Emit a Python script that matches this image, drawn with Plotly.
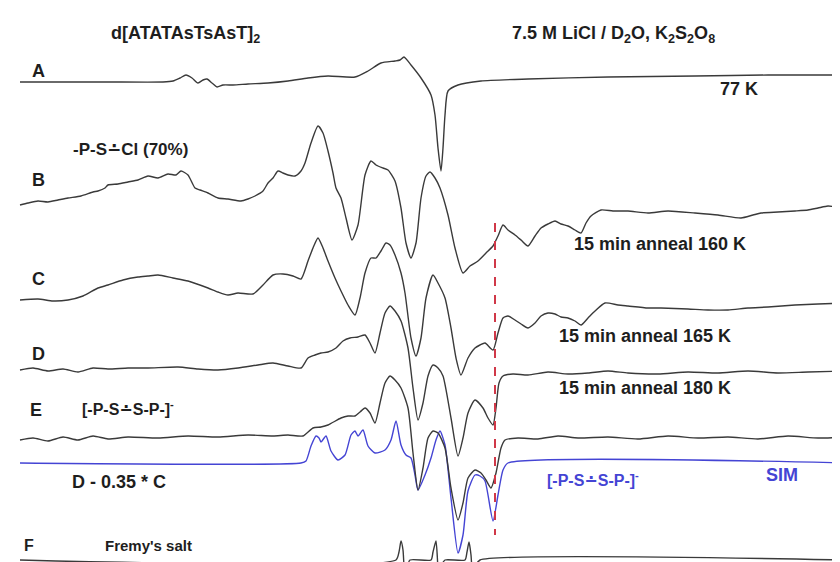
import plotly.graph_objects as go

# ---- spectra: field positions (arbitrary units) and signal amplitude (arb. units, up = +) ----
A_x = [12, 60, 100, 155, 165, 172, 178, 184, 190, 195, 199, 204, 209, 215, 225, 240, 260, 280, 300, 320, 347, 360, 373, 387, 392, 396, 403, 413, 423, 427, 430, 433, 435, 437, 440, 450, 473, 520, 600, 687, 760, 840]
A_y = [0, 0, 0, 0, 1, 4, 7, 4, -1, 2, 3, -1, -5, -3, -3, -2, -1, 1, 4, 6, 5, 11, 19, 21, 22, 25, 17, 4, -13, -33, -66, -89, -66, -33, -9, -3, 1, 3, 5, 6, 7, 7]

B_x = [12, 20, 30, 40, 50, 60, 73, 85, 90, 97, 100, 110, 120, 130, 140, 150, 160, 168, 173, 180, 187, 192, 200, 210, 220, 233, 240, 247, 255, 260, 265, 270, 275, 280, 287, 293, 297, 303, 310, 315, 320, 325, 328, 333, 338, 344, 350, 357, 363, 368, 375, 380, 387, 393, 398, 403, 408, 413, 418, 422, 427, 432, 440, 447, 455, 462, 470, 478, 485, 490, 495, 500, 507, 513, 520, 527, 533, 540, 547, 553, 560, 567, 573, 578, 583, 593, 605, 620, 640, 660, 687, 710, 733, 745, 753, 770, 787, 800, 810, 820, 830, 840]
B_y = [-2, 0, 2, 1, 3, 5, 7, 11, 12, 15, 18, 19, 21, 23, 27, 25, 29, 28, 32, 28, 15, 13, 10, 5, 4, 2, 4, 7, 12, 20, 25, 32, 30, 28, 27, 32, 40, 60, 77, 70, 52, 30, 15, 5, -15, -37, -22, 28, 42, 38, 35, 33, 22, -5, -40, -55, -40, 5, 27, 31, 25, 15, -12, -45, -70, -63, -58, -50, -43, -33, -22, -27, -32, -37, -43, -33, -25, -21, -18, -21, -23, -27, -30, -20, -13, -7, -8, -8, -10, -8, -10, -12, -15, -12, -10, -9, -8, -7, -5, -3, -4, -2]

C_x = [12, 30, 45, 60, 75, 90, 100, 115, 130, 140, 150, 165, 180, 200, 210, 220, 230, 245, 255, 265, 275, 285, 293, 300, 305, 310, 315, 320, 327, 333, 340, 347, 352, 357, 363, 368, 373, 378, 382, 387, 393, 397, 403, 408, 413, 418, 425, 430, 437, 443, 448, 453, 460, 467, 472, 477, 485, 490, 495, 500, 507, 513, 520, 527, 533, 540, 547, 553, 560, 567, 573, 580, 587, 597, 610, 620, 640, 653, 680, 700, 720, 740, 760, 787, 810, 840]
C_y = [-2, -1, -3, -2, 2, 10, 13, 18, 21, 22, 23, 20, 17, 10, 6, 3, 5, 4, 13, 23, 24, 22, 19, 37, 50, 60, 50, 37, 20, 7, -7, -17, 0, 25, 40, 40, 47, 55, 53, 43, 25, 5, -40, -58, -40, 0, 23, 15, 0, -30, -60, -77, -60, -50, -47, -45, -52, -35, -20, -18, -22, -26, -30, -25, -18, -15, -16, -19, -20, -23, -27, -20, -13, -5, -7, -8, -10, -10, -11, -12, -12, -10, -9, -7, -6, -5]

D_x = [12, 25, 40, 55, 70, 85, 100, 120, 140, 170, 190, 210, 230, 250, 265, 280, 293, 300, 307, 313, 320, 328, 335, 342, 350, 357, 362, 367, 372, 377, 382, 387, 393, 400, 405, 410, 415, 420, 425, 430, 435, 443, 450, 455, 460, 467, 475, 480, 485, 488, 491, 495, 505, 520, 540, 560, 580, 600, 620, 650, 680, 710, 740, 770, 800, 840]
D_y = [0, 2, -1, 1, -2, 2, 1, 2, 2, 3, 1, 0, 2, 5, 7, 4, 2, 12, 15, 17, 18, 22, 29, 32, 33, 35, 27, 17, 37, 57, 64, 59, 49, 22, -18, -50, -33, -6, 5, 2, -6, -48, -86, -68, -43, -30, -38, -48, -55, -38, -13, -6, -4, -5, -2, -4, -3, -1, -3, -4, -2, -3, -1, -3, -2, -1]

E_x = [12, 25, 40, 55, 70, 85, 100, 120, 150, 180, 210, 240, 265, 280, 295, 305, 313, 320, 333, 340, 347, 352, 357, 362, 367, 372, 377, 382, 387, 393, 400, 405, 410, 415, 420, 425, 430, 437, 443, 450, 455, 460, 467, 473, 478, 483, 488, 493, 497, 510, 530, 550, 570, 600, 630, 660, 690, 720, 750, 780, 810, 840]
E_y = [-2, 0, -3, 1, -2, 2, -1, 1, 0, 2, 1, 3, 2, 3, 2, 10, 11, 13, 20, 22, 22, 26, 30, 25, 15, 35, 55, 62, 58, 50, 30, -15, -52, -30, 0, 7, 5, -10, -50, -82, -65, -40, -32, -35, -42, -50, -35, -10, -2, 0, -1, 2, 0, 1, -1, 2, 0, 1, -1, 2, 0, 1]

SIM_x = [12, 293, 298, 303, 308, 311, 313, 318, 323, 330, 337, 343, 347, 350, 355, 360, 367, 377, 383, 388, 393, 398, 403, 407, 410, 417, 423, 428, 432, 437, 443, 450, 455, 460, 467, 472, 477, 485, 490, 495, 500, 840]
SIM_y = [0, 0, 2, 17, 27, 25, 21, 27, 12, 3, 8, 28, 32, 27, 33, 17, 10, 13, 23, 42, 18, 8, 5, -12, -27, -12, 5, 23, 32, 18, -35, -90, -72, -28, -12, -13, -18, -58, -32, -7, 0, 0]

F_x = [12, 388, 391, 393, 395, 397, 399, 402, 423, 425, 428, 430, 432, 434, 437, 457, 459, 461, 463, 465, 468, 472, 840]
F_y = [0, 0, 8, 19, 10, -22, -8, 0, 0, 8, 19, -8, -22, -5, 0, 0, 8, 18, 5, -22, -5, 0, 0]

# stacking baselines of the spectra (vertical offsets)
offsets = {"A": 74, "B": 195, "C": 290, "D": 362, "E": 430, "SIM": 455, "F": 552}
marker_field = 487  # red dashed reference field

BLACK = "#3a3a3a"
BLUE = "#4444d4"

fig = go.Figure()
series = [("A", A_x, A_y, BLACK), ("B", B_x, B_y, BLACK), ("C", C_x, C_y, BLACK),
          ("D", D_x, D_y, BLACK), ("SIM", SIM_x, SIM_y, BLUE), ("E", E_x, E_y, BLACK),
          ("F", F_x, F_y, BLACK)]
for name, xs, ys, col in series:
    off = offsets[name]
    fig.add_trace(go.Scatter(x=xs, y=[v - off for v in ys], mode="lines", name=name,
                             line=dict(color=col, width=1.4, shape="spline", smoothing=0.6),
                             hoverinfo="skip", showlegend=False))

fig.add_shape(type="line", x0=marker_field, x1=marker_field, y0=-215, y1=-527,
              xref="x", yref="y", line=dict(color="#d03848", width=2, dash="dash"))

TXT = "#1e1e1e"
def ann(x, y, text, size=17, color=TXT):
    fig.add_annotation(x=x, y=-y, xref="x", yref="y", text="<b>" + text + "</b>", showarrow=False,
                       xanchor="center", yanchor="middle",
                       font=dict(family="Liberation Sans, Arial, DejaVu Sans", size=size,
                                 color=color))

ann(177, 26, "d[ATATAsTsAsT]<sub>2</sub>", 18)
ann(605, 26, "7.5 M LiCl / D<sub>2</sub>O, K<sub>2</sub>S<sub>2</sub>O<sub>8</sub>", 18)
ann(30, 63, "A", 18)
ann(731, 81, "77 K", 18)
ann(122, 141, "-P-S∸Cl (70%)", 17)
ann(30, 172, "B", 18)
ann(652, 236, "15 min anneal 160 K", 18)
ann(30, 271, "C", 18)
ann(637, 328, "15 min anneal 165 K", 18)
ann(30, 346, "D", 18)
ann(637, 380, "15 min anneal 180 K", 18)
ann(28, 402, "E", 18)
ann(120, 400, "[-P-S∸S-P-]<sup>-</sup>", 16)
ann(111, 474, "D - 0.35 * C", 18)
ann(585, 471, "[-P-S∸S-P-]<sup>-</sup>", 16, BLUE)
ann(774, 467, "SIM", 18, BLUE)
ann(21, 537, "F", 16)
ann(140, 537, "Fremy's salt", 15)

fig.update_layout(width=840, height=562, margin=dict(l=0, r=0, t=0, b=0),
                  paper_bgcolor="white", plot_bgcolor="white",
                  xaxis=dict(range=[0, 840], visible=False, fixedrange=True),
                  yaxis=dict(range=[-562, 0], visible=False, fixedrange=True))
fig.write_html("out.html")
